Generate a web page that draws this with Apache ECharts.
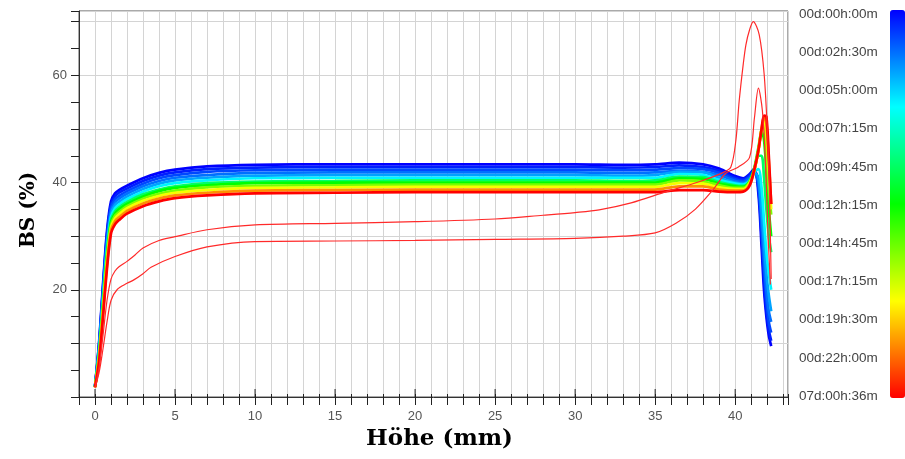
<!DOCTYPE html>
<html><head><meta charset="utf-8">
<script src="https://cdn.jsdelivr.net/npm/echarts@6/dist/echarts.min.js"></script>
<style>html,body{margin:0;padding:0;background:#fff}#c{width:905px;height:459px}</style>
</head><body><div id="c"></div>
<script>
// ---------- data ----------
const height = [0, 0.25, 0.5, 0.75, 1, 1.25, 1.5, 2, 3, 4, 5, 7, 10, 15, 20, 25, 30, 33, 35, 36.5, 38, 39, 40, 40.5, 40.9, 41.2, 41.45, 41.65, 41.8, 41.95, 42.1, 42.25];

const scan01 = [2.0, 10, 21, 31, 36.5, 38.0, 38.6, 39.4, 40.8, 41.8, 42.4, 43.0, 43.3, 43.4, 43.4, 43.4, 43.4, 43.3, 43.4, 43.7, 43.4, 42.6, 41.2, 40.8, 41.6, 42.6, 38, 28, 20, 15, 11.5, 9.5];
const scan02 = [2.0, 9.7, 20.4, 30.3, 35.9, 37.4, 38.1, 38.9, 40.3, 41.3, 41.9, 42.5, 42.8, 42.9, 42.9, 42.9, 42.9, 42.8, 42.9, 43.2, 42.9, 42.2, 40.9, 40.6, 41.4, 42.3, 39, 30, 22, 16, 12.5, 10.5];
const scan03 = [2.0, 9.3, 19.9, 29.7, 35.4, 36.9, 37.5, 38.4, 39.8, 40.8, 41.4, 42.0, 42.3, 42.4, 42.4, 42.4, 42.4, 42.3, 42.4, 42.7, 42.5, 41.8, 40.6, 40.3, 41.1, 42.1, 39.5, 31, 24, 18, 14, 12];
const scan04 = [1.9, 9.0, 19.3, 29.0, 34.8, 36.3, 37.0, 37.9, 39.3, 40.3, 40.9, 41.4, 41.8, 41.9, 41.9, 41.9, 41.9, 41.8, 41.9, 42.2, 42.0, 41.4, 40.3, 40.1, 40.8, 41.8, 40, 33, 26, 20, 16, 14];
const scan05 = [1.9, 8.7, 18.7, 28.3, 34.2, 35.8, 36.4, 37.4, 38.8, 39.8, 40.4, 40.9, 41.3, 41.4, 41.4, 41.4, 41.4, 41.3, 41.4, 42.0, 41.9, 40.9, 40.0, 39.8, 40.5, 41.8, 41, 35, 29, 23, 19, 16];
const scan06 = [1.9, 8.3, 18.1, 27.6, 33.6, 35.2, 35.9, 36.9, 38.3, 39.3, 39.9, 40.4, 40.8, 40.9, 40.9, 40.9, 40.9, 40.9, 40.9, 41.6, 41.4, 40.5, 39.8, 39.6, 40.3, 42.0, 42.5, 39, 33, 27, 23, 20];
const scan07 = [1.9, 8.0, 17.5, 26.9, 33.0, 34.6, 35.4, 36.4, 37.8, 38.7, 39.3, 39.9, 40.2, 40.3, 40.4, 40.4, 40.4, 40.3, 40.4, 41.1, 41.0, 40.1, 39.5, 39.4, 40.2, 42.5, 45, 45, 41, 35, 30, 27];
const scan08 = [1.9, 7.7, 17.1, 26.5, 32.6, 34.2, 35.0, 36.0, 37.4, 38.4, 39.0, 39.5, 39.9, 40.0, 40.0, 40.0, 40.0, 40.0, 40.0, 40.8, 40.7, 39.8, 39.3, 39.2, 40.2, 42.8, 46.5, 49.5, 48, 42, 35, 30];
const scan09 = [1.9, 7.4, 16.6, 25.9, 32.1, 33.8, 34.5, 35.6, 37.0, 37.9, 38.5, 39.1, 39.4, 39.5, 39.6, 39.6, 39.6, 39.6, 39.6, 40.4, 40.2, 39.5, 39.0, 39.0, 40.1, 42.5, 46, 50, 50.5, 46, 39, 34];
const scan10 = [1.8, 7.2, 16.1, 25.3, 31.6, 33.3, 34.1, 35.2, 36.6, 37.5, 38.1, 38.6, 39.0, 39.1, 39.2, 39.2, 39.2, 39.2, 39.2, 39.9, 39.8, 39.1, 38.8, 38.8, 39.9, 42.3, 46, 50, 51.5, 49, 42, 35];
const scan11 = [1.8, 6.8, 15.6, 24.7, 31.1, 32.8, 33.5, 34.7, 36.1, 37.0, 37.6, 38.1, 38.5, 38.6, 38.7, 38.7, 38.7, 38.7, 38.7, 39.3, 39.3, 38.7, 38.5, 38.5, 39.6, 42.3, 46, 50, 52.3, 51, 44, 36];
const scan12 = [1.8, 6.5, 15.0, 24.0, 30.5, 32.2, 33.0, 34.2, 35.6, 36.5, 37.1, 37.6, 38.0, 38.1, 38.2, 38.2, 38.2, 38.2, 38.2, 38.6, 38.6, 38.3, 38.2, 38.3, 39.4, 42.5, 46, 50, 52.5, 52.3, 45, 36];

const heightLateA = [0, 0.25, 0.5, 0.75, 1, 1.25, 1.5, 2, 2.5, 3, 4, 5, 7, 10, 15, 20, 25, 28, 30, 31.5, 33.5, 35.7, 37.7, 39.2, 39.73, 40.04, 40.25, 40.5, 40.67, 40.9, 41.13, 41.5, 41.81, 42.02, 42.13, 42.25];
const bsLateA     = [1.8, 5.5, 11.5, 18, 22, 23.5, 24.3, 25.3, 26.5, 27.8, 29.2, 29.9, 31.2, 32.1, 32.4, 32.7, 33.2, 33.9, 34.4, 34.9, 36.2, 38.3, 40.1, 41.8, 42.9, 47.8, 55.2, 62, 65.7, 68.5, 70, 67.6, 60.2, 49, 39.8, 22];

const heightLateB = [0, 0.25, 0.5, 0.75, 1, 1.4, 2, 2.4, 3, 3.5, 5, 7, 10, 15, 20, 25, 30, 33, 35, 36.3, 37.5, 38.6, 39.4, 40.2, 40.9, 41.2, 41.45, 41.7, 41.9, 42.05, 42.2];
const bsLateB     = [1.8, 4.5, 9, 14, 18, 20.1, 21.2, 21.8, 23, 24.2, 26.2, 28, 29.0, 29.1, 29.2, 29.4, 29.6, 30.0, 30.6, 32.4, 35.0, 38.6, 41.7, 42.9, 44.7, 52, 57.6, 53.4, 43, 30.5, 21];

const timeLabels = ['00d:00h:00m', '00d:02h:30m', '00d:05h:00m', '00d:07h:15m', '00d:09h:45m', '00d:12h:15m', '00d:14h:45m', '00d:17h:15m', '00d:19h:30m', '00d:22h:00m', '07d:00h:36m'];
const xMajorTicks = [0, 5, 10, 15, 20, 25, 30, 35, 40];

// ---------- styling ----------
const rampStops = ['#0000ff', '#00ffff', '#00ff00', '#ffff00', '#ff0000'];
function hexToRgb(h){return [parseInt(h.slice(1,3),16),parseInt(h.slice(3,5),16),parseInt(h.slice(5,7),16)];}
function rampColor(t){
  const n = rampStops.length - 1;
  const i = Math.min(n - 1, Math.floor(t * n));
  const f = t * n - i;
  const a = hexToRgb(rampStops[i]), b = hexToRgb(rampStops[i + 1]);
  const c = a.map((v, j) => Math.round(v + (b[j] - v) * f));
  return 'rgb(' + c.join(',') + ')';
}
const scans = [scan01, scan02, scan03, scan04, scan05, scan06, scan07, scan08, scan09, scan10, scan11, scan12];
const scanColorPos = [0, 0.03, 0.07, 0.11, 0.16, 0.24, 0.40, 0.50, 0.62, 0.74, 0.86, 1];

const series = scans.map((ys, k) => ({
  type: 'line', name: 'scan' + (k + 1), xAxisIndex: 0, yAxisIndex: 0,
  data: height.map((x, i) => [x, ys[i]]),
  showSymbol: false, smooth: 0.3, animation: false, silent: true,
  lineStyle: { color: rampColor(scanColorPos[k]), width: 2.7 }
}));
[[heightLateA, bsLateA], [heightLateB, bsLateB]].forEach(([xs, ys], k) => {
  series.push({
    type: 'line', name: 'late' + k, xAxisIndex: 0, yAxisIndex: 0,
    data: xs.map((x, i) => [x, ys[i]]),
    showSymbol: false, smooth: 0.3, animation: false, silent: true,
    lineStyle: { color: '#ff2a2a', width: 1.2 }
  });
});
series.push({
  type: 'custom', xAxisIndex: 0, yAxisIndex: 0, clip: false, silent: true, z: 10,
  data: xMajorTicks.map(v => [v, 0]),
  renderItem: (params, api) => {
    const p = api.coord([api.value(0), 0]);
    return { type: 'line', shape: { x1: p[0], y1: p[1], x2: p[0], y2: p[1] - 8 }, style: { stroke: '#222', lineWidth: 1 } };
  }
});

const tickFont = { color: '#555', fontSize: 13, fontFamily: 'Liberation Sans, Arial, sans-serif' };
const nameFontX = { color: '#000', fontSize: 23, fontWeight: 'bold', fontFamily: 'DejaVu Serif, Liberation Serif, serif', padding: [0, 0, 0, 12] };
const nameFontY = { color: '#000', fontSize: 20, fontWeight: 'bold', fontFamily: 'DejaVu Serif, Liberation Serif, serif', padding: [0, 12, 0, 0] };

const chart = echarts.init(document.getElementById('c'), null, { renderer: 'canvas' });
chart.setOption({
  animation: false,
  backgroundColor: '#fff',
  grid: [
    { left: 79, right: 117, top: 11, bottom: 62, show: true, borderColor: '#555', borderWidth: 1 },
    { left: 79, right: 117, top: 14, bottom: 63, show: false }
  ],
  xAxis: [
    {
      type: 'value', gridIndex: 0, min: -1, max: 43.3, interval: 1, position: 'bottom',
      name: 'Höhe (mm)', nameLocation: 'middle', nameGap: 28, nameTextStyle: nameFontX,
      axisLine: { onZero: false, lineStyle: { color: '#333' } },
      axisTick: { length: 8, lineStyle: { color: '#222' } },
      axisLabel: Object.assign({ margin: 13, formatter: v => (Math.abs(v - Math.round(v)) < 1e-6 && Math.round(v) % 5 === 0 && v >= 0 && v <= 40) ? String(Math.round(v)) : '' }, tickFont),
      splitLine: { show: true, lineStyle: { color: '#d4d4d4', width: 1 } }
    },
    {
      type: 'value', gridIndex: 0, min: -1, max: 43.3, interval: 1, position: 'bottom',
      axisLine: { show: false, onZero: false }, axisLabel: { show: false }, splitLine: { show: false },
      axisTick: { inside: true, length: 3, lineStyle: { color: '#222' } }
    },
    { type: 'value', gridIndex: 1, show: false, min: 0, max: 1 }
  ],
  yAxis: [
    {
      type: 'value', gridIndex: 0, min: 0, max: 72, interval: 5, position: 'left',
      name: 'BS (%)', nameLocation: 'middle', nameGap: 40, nameTextStyle: nameFontY,
      axisLine: { show: true, onZero: false, lineStyle: { color: '#333' } },
      axisTick: { show: true, length: 8, lineStyle: { color: '#222' } },
      axisLabel: Object.assign({ margin: 12, formatter: v => (v > 0 && v % 20 === 0) ? String(v) : '' }, tickFont),
      splitLine: { show: false }
    },
    {
      type: 'value', gridIndex: 0, min: 0, max: 72, interval: 10, position: 'left',
      axisLine: { show: false, onZero: false }, axisTick: { show: false }, axisLabel: { show: false },
      splitLine: { show: true, lineStyle: { color: '#d4d4d4', width: 1 } }
    },
    {
      type: 'category', gridIndex: 1, data: timeLabels, position: 'right', inverse: true, boundaryGap: false,
      axisLine: { show: false, onZero: false }, axisTick: { show: false }, splitLine: { show: false },
      axisLabel: { margin: 11, color: '#444', fontSize: 13.5, fontFamily: 'Liberation Sans, Arial, sans-serif' }
    }
  ],
  visualMap: {
    type: 'continuous', min: 0, max: 1, seriesIndex: [], calculable: false,
    left: 890, top: 10, itemWidth: 15, itemHeight: 388, padding: 0, text: ['', ''],
    hoverLink: false,
    inRange: { color: rampStops.slice().reverse() }
  },
  series: series
});
</script></body></html>
